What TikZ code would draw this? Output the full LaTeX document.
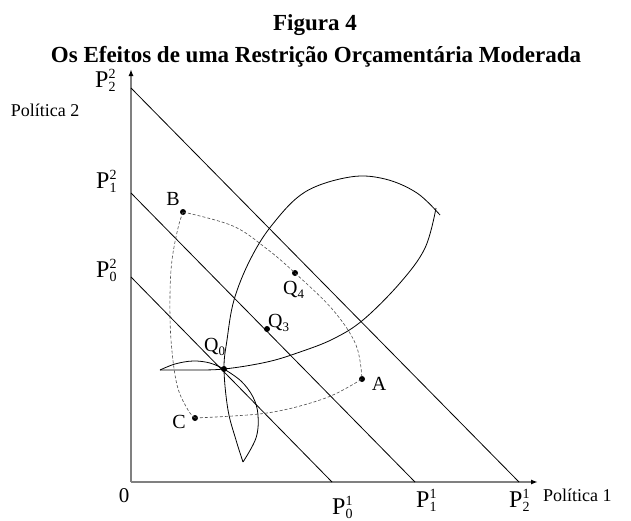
\documentclass[tikz,border=0pt]{standalone}
\usepackage{fontspec}
\setmainfont{Liberation Serif}
\usetikzlibrary{arrows.meta}
\newcommand{\idx}[1]{{\fontsize{14}{14}\selectfont #1}}
\newcommand{\Plab}[2]{P\rlap{\raisebox{9pt}{\idx{#1}}}\raisebox{-4pt}{\idx{#2}}}
\newcommand{\Qlab}[1]{Q\raisebox{-4pt}{\fontsize{13}{13}\selectfont #1}}

\begin{document}
\begin{tikzpicture}[
    x=1pt, y=-1pt,
    axis/.style={
      draw=black!50, line width=1.6pt,
      -{Latex[length=7pt, width=5pt, color=black]},
    },
    budget/.style={draw=black, line width=0.8pt},
    indiff/.style={draw=black, line width=0.8pt, smooth, tension=0.6},
    path/.style={draw=black!70, line width=0.6pt, dash pattern=on 3pt off 2pt, smooth, tension=0.6},
    dot/.style={circle, fill=black, inner sep=0pt, minimum size=6pt},
    plab/.style={font=\fontsize{24}{26}\selectfont, inner sep=0pt},
    ptlab/.style={font=\fontsize{20}{22}\selectfont, inner sep=0pt},
    axlab/.style={font=\fontsize{18}{20}\selectfont},
    title/.style={font=\fontsize{23}{25}\selectfont\bfseries, inner sep=0pt, anchor=base},
  ]
  \useasboundingbox (0,0) rectangle (631,520);

  % titles
  \node[title] (fig) at (315,30) {Figura 4};
  \node[title] (ttl) at (316,62) {Os Efeitos de uma Restrição Orçamentária Moderada};

  % axes
  \coordinate (O) at (131,482);
  \coordinate (xend) at (538,482);
  \coordinate (yend) at (131,69);
  \draw[axis] (O) -- (xend);
  \draw[axis] (O) -- (yend);

  % budget lines
  \coordinate (p22) at (131,88);
  \coordinate (p21) at (131,193);
  \coordinate (p20) at (131,277);
  \coordinate (p12) at (519,482);
  \coordinate (p11) at (415,482);
  \coordinate (p10) at (332,482);
  \draw[budget] (p22) -- (p12);
  \draw[budget] (p21) -- (p11);
  \draw[budget] (p20) -- (p10);

  % points
  \node[dot] (Q0) at (224,369) {};
  \node[dot] (Q3) at (267,329) {};
  \node[dot] (Q4) at (295,273) {};
  \node[dot] (A) at (362,379) {};
  \node[dot] (B) at (183,212) {};
  \node[dot] (C) at (195,418) {};

  % indifference curves
  \draw[indiff] plot coordinates {(243,462) (236,440) (228,410) (Q0.center) (227,340)
    (234,300) (250,260) (272,225) (305,192) (350,177) (385,179) (417,193) (440,215)};
  \draw[indiff] plot coordinates {(160,370) (190,370) (Q0.center) (267,362) (300,352)
    (333,339) (363,320) (400,283) (425,248) (436,208)};
  \draw[indiff] plot coordinates {(160,370) (175,364) (193,361) (210,363) (Q0.center)};
  \draw[indiff] plot coordinates {(Q0.center) (241,381) (253,397) (258,415) (256,438) (243,462)};

  % dashed paths
  \draw[path] plot coordinates {(B.center) (233,226) (267,249) (Q4.center) (333,310) (356,345) (A.center)};
  \draw[path] plot coordinates {(B.center) (178,228) (172,260) (170,295) (171,340) (177,385) (188,410) (C.center)};
  \draw[path] plot coordinates {(C.center) (233,416) (267,413) (300,406) (333,395) (A.center)};

  % labels
  \node[plab, anchor=base west] (l22) at (95,87) {\Plab{2}{2}};
  \node[plab, anchor=base west] (l21) at (96,188) {\Plab{2}{1}};
  \node[plab, anchor=base west] (l20) at (96,277) {\Plab{2}{0}};
  \node[plab, anchor=base west] (l10) at (332,514) {\Plab{1}{0}};
  \node[plab, anchor=base west] (l11) at (416,507) {\Plab{1}{1}};
  \node[plab, anchor=base west] (l12) at (509,507) {\Plab{1}{2}};
  \node[font=\fontsize{21}{23}\selectfont] (zero) at (124,496) {0};
  \node[axlab, anchor=west, inner sep=0pt] (pol1) at (543,495) {Política 1};
  \node[axlab] (pol2) at (45,110) {Política 2};

  \node[ptlab, anchor=base west] (lq0) at (204,351) {\Qlab{0}};
  \node[ptlab, anchor=base west] (lq3) at (268,327) {\Qlab{3}};
  \node[ptlab, anchor=base west] (lq4) at (283,294) {\Qlab{4}};
  \node[ptlab] (la) at (379,384) {A};
  \node[ptlab] (lb) at (173,199) {B};
  \node[ptlab] (lc) at (179,422) {C};
\end{tikzpicture}
\end{document}
